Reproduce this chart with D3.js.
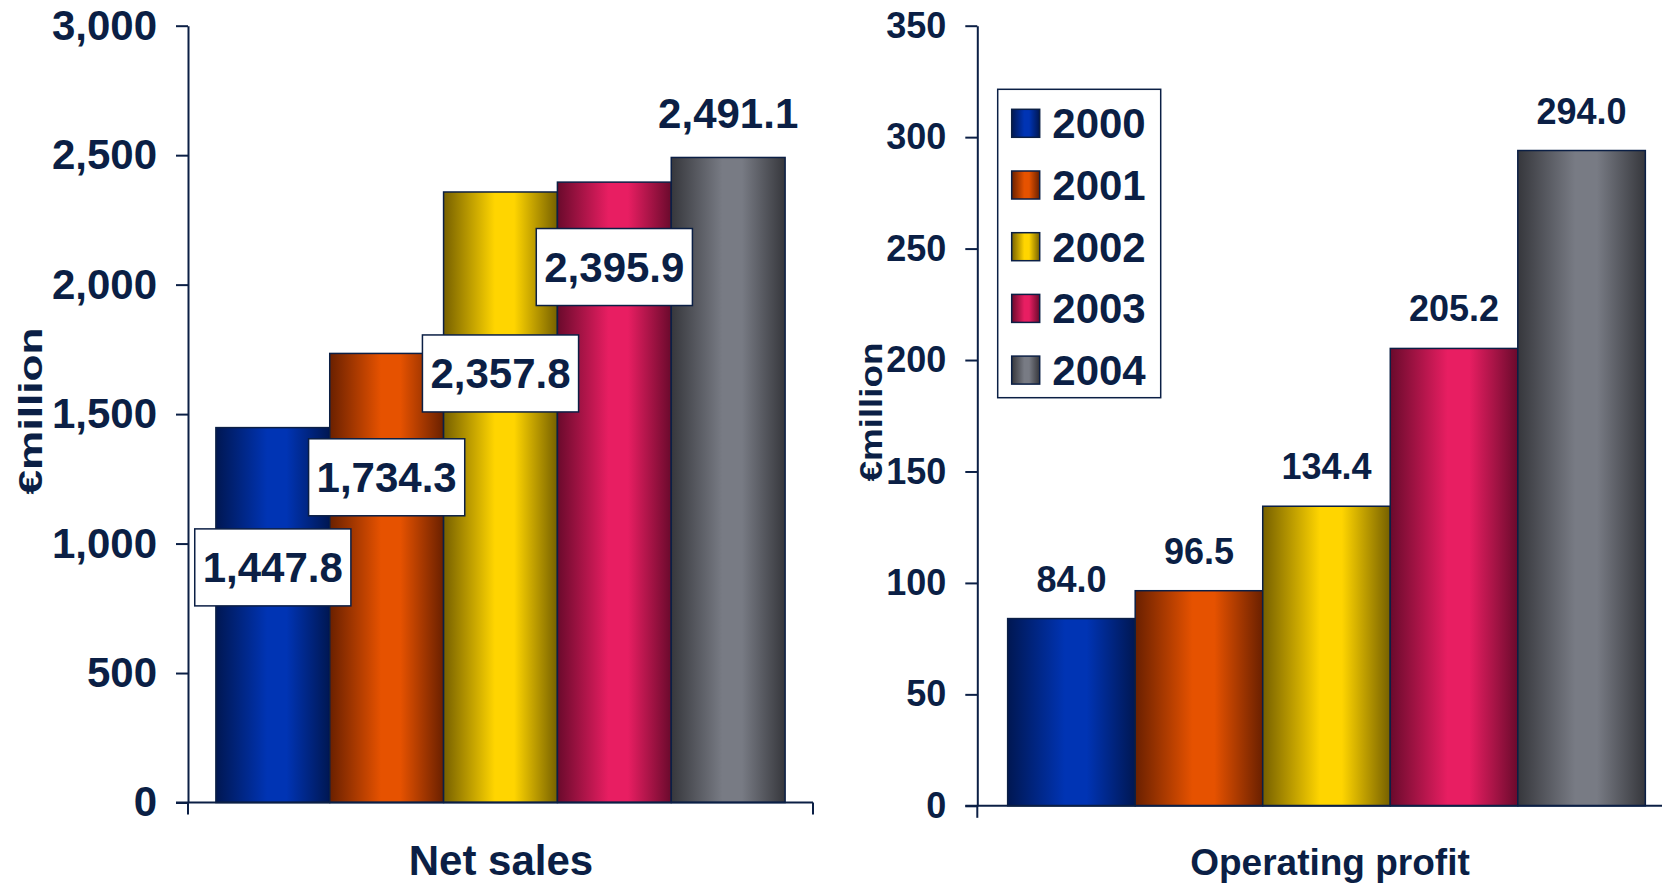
<!DOCTYPE html>
<html>
<head>
<meta charset="utf-8">
<script src="https://cdn.jsdelivr.net/npm/d3@7"></script>
<style>
  html, body { margin: 0; padding: 0; background: #ffffff; }
  svg { display: block; }
  text { font-family: "Liberation Sans", Arial, sans-serif; font-weight: bold; fill: #0b1f45; }
</style>
</head>
<body>
<svg id="chart" width="1662" height="884"></svg>
<script>
// ---- data ----
const years = ["2000", "2001", "2002", "2003", "2004"];
const netSales = [1447.8, 1734.3, 2357.8, 2395.9, 2491.1];
const operatingProfit = [84.0, 96.5, 134.4, 205.2, 294.0];
const netSalesTicks = [0, 500, 1000, 1500, 2000, 2500, 3000];
const profitTicks = [0, 50, 100, 150, 200, 250, 300, 350];
// where the (manually placed) net sales labels sit, in € million
const netSalesLabelAt = [908, 1256, 1657, 2068, 2662];
const netSalesLabelBoxed = [true, true, true, true, false];
const categoryTitles = ["Net sales", "Operating profit"];
const yTitle = "€million";
// colour stops per year: edge, bright
const yearEdge = ["#001752", "#6a2000", "#766000", "#6a0a2c", "#36373c"];
const yearBright = ["#0034b4", "#e65200", "#ffd500", "#e81e62", "#787b84"];

const navy = "#0b1f45";
const svg = d3.select("#chart");
const defs = svg.append("defs");

years.forEach((yr, i) => {
  const g = defs.append("linearGradient")
    .attr("id", "grad" + i).attr("x1", "0%").attr("x2", "100%").attr("y1", "0%").attr("y2", "0%");
  g.append("stop").attr("offset", "0%").attr("stop-color", yearEdge[i]);
  g.append("stop").attr("offset", "45%").attr("stop-color", yearBright[i]);
  g.append("stop").attr("offset", "62%").attr("stop-color", yearBright[i]);
  g.append("stop").attr("offset", "100%").attr("stop-color", yearEdge[i]);
});

function panel(opts) {
  const { values, ticks, xRange, yRange, outer, tickFont, title, titleY, titleX, titleFont } = opts;
  const x = d3.scaleBand().domain(years).range(xRange).paddingInner(0).paddingOuter(outer);
  const y = d3.scaleLinear().domain([ticks[0], ticks[ticks.length - 1]]).range(yRange);
  const g = svg.append("g");

  // bars
  g.selectAll("rect.bar").data(years).join("rect")
    .attr("class", "bar")
    .attr("x", d => x(d))
    .attr("width", x.bandwidth())
    .attr("y", (d, i) => y(values[i]))
    .attr("height", (d, i) => y(0) - y(values[i]))
    .attr("fill", (d, i) => `url(#grad${i})`)
    .attr("stroke", navy).attr("stroke-width", 1.5);

  // y axis
  const ax = g.append("g")
    .attr("transform", `translate(${xRange[0]},0)`)
    .call(d3.axisLeft(y).tickValues(ticks).tickFormat(d3.format(",")).tickSize(12).tickSizeOuter(0).tickPadding(19));
  ax.select(".domain").attr("stroke", navy).attr("stroke-width", 2);
  ax.selectAll(".tick line").attr("stroke", navy).attr("stroke-width", 2);
  ax.selectAll(".tick text").style("font-size", tickFont + "px").attr("fill", navy)
    .style("font-family", "'Liberation Sans', Arial, sans-serif").style("font-weight", "bold");

  // x axis line with boundary ticks
  g.append("line").attr("x1", xRange[0] - 12).attr("x2", xRange[1])
    .attr("y1", y(0)).attr("y2", y(0)).attr("stroke", navy).attr("stroke-width", 2);
  [xRange[0], xRange[1]].forEach(px => {
    g.append("line").attr("x1", px).attr("x2", px).attr("y1", y(0)).attr("y2", y(0) + 12)
      .attr("stroke", navy).attr("stroke-width", 2);
  });

  // category title
  g.append("text").attr("x", titleX).attr("y", titleY).attr("text-anchor", "middle")
    .style("font-size", titleFont + "px").text(title);

  return { g, x, y };
}

// ---- left panel ----
const left = panel({
  values: netSales, ticks: netSalesTicks, xRange: [188, 813], yRange: [802.5, 25.7],
  outer: 0.245, tickFont: 42, title: categoryTitles[0], titleX: 501, titleY: 875, titleFont: 42
});
const fmt = d3.format(",.1f");
years.forEach((yr, i) => {
  const cx = left.x(yr) + left.x.bandwidth() / 2;
  const cy = left.y(netSalesLabelAt[i]);
  const lg = left.g.append("g");
  const t = lg.append("text").attr("x", cx).attr("y", cy).attr("dy", "0.35em")
    .attr("text-anchor", "middle").style("font-size", "42px").text(fmt(netSales[i]));
  if (netSalesLabelBoxed[i]) {
    const bb = t.node().getBBox();
    lg.insert("rect", "text")
      .attr("x", bb.x - 8).attr("width", bb.width + 16)
      .attr("y", cy - 38.5).attr("height", 77)
      .attr("fill", "#ffffff").attr("stroke", navy).attr("stroke-width", 1.5);
  }
});
svg.append("text").attr("transform", "translate(42,411) rotate(-90)")
  .attr("text-anchor", "middle").style("font-size", "33px")
  .attr("textLength", 167).attr("lengthAdjust", "spacingAndGlyphs").text(yTitle);

// ---- right panel ----
const right = panel({
  values: operatingProfit, ticks: profitTicks, xRange: [977.3, 1675.7], yRange: [805.8, 25.7],
  outer: 0.238, tickFont: 36, title: categoryTitles[1], titleX: 1330, titleY: 875, titleFont: 37
});
years.forEach((yr, i) => {
  right.g.append("text")
    .attr("x", right.x(yr) + right.x.bandwidth() / 2)
    .attr("y", right.y(operatingProfit[i]) - 27)
    .attr("text-anchor", "middle").style("font-size", "36px")
    .text(d3.format(".1f")(operatingProfit[i]));
});
svg.append("text").attr("transform", "translate(882,412) rotate(-90)")
  .attr("text-anchor", "middle").style("font-size", "31px")
  .attr("textLength", 139).attr("lengthAdjust", "spacingAndGlyphs").text(yTitle);

// ---- legend ----
const lgd = svg.append("g");
lgd.append("rect").attr("x", 997.7).attr("y", 89.3).attr("width", 163).attr("height", 308.4)
  .attr("fill", "#ffffff").attr("stroke", navy).attr("stroke-width", 1.5);
years.forEach((yr, i) => {
  const top = 109.3 + i * 61.7;
  lgd.append("rect").attr("x", 1011.7).attr("y", top).attr("width", 28).attr("height", 28)
    .attr("fill", `url(#grad${i})`).attr("stroke", navy).attr("stroke-width", 1.5);
  lgd.append("text").attr("x", 1052.3).attr("y", top + 29).style("font-size", "42px").text(yr);
});
</script>
</body>
</html>
